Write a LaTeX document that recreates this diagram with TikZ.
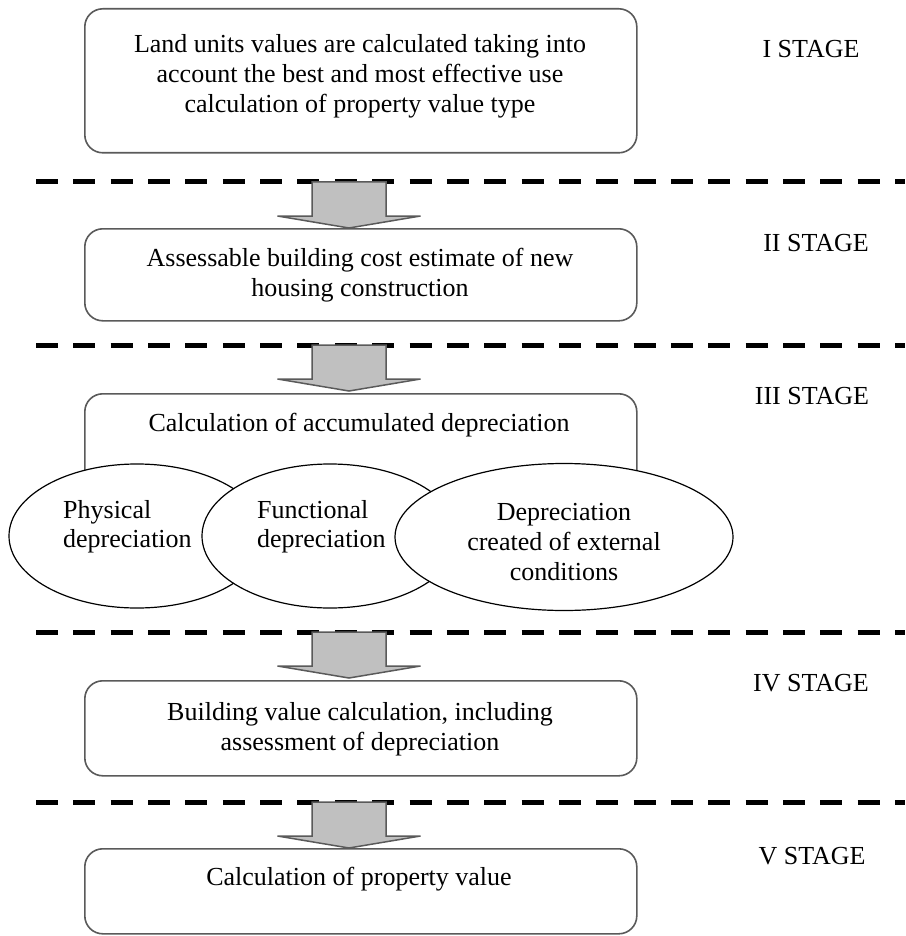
\documentclass[tikz,border=0pt]{standalone}
\usepackage{fontspec}
\setmainfont{Liberation Serif}
\usetikzlibrary{shapes.geometric}

\definecolor{edgegray}{HTML}{5A5A5A}
\definecolor{arrowfill}{HTML}{C0C0C0}

\tikzset{
  stagebox/.style={draw=edgegray, line width=1.6pt, rounded corners=18pt,
    fill=white, inner sep=0pt, anchor=north west},
  txt/.style={inner sep=0pt, align=center, font=\fontsize{26}{30}\selectfont},
  ltxt/.style={inner sep=0pt, align=left, font=\fontsize{26}{29}\selectfont, anchor=west},
  stagelabel/.style={inner sep=0pt, font=\fontsize{26}{30}\selectfont},
  factor/.style={ellipse, draw=black, line width=1.2pt, fill=white, inner sep=0pt},
  separator/.style={line width=5pt, dash pattern=on 22pt off 15.35pt},
  blockarrow/.pic={
    \path[draw=edgegray, fill=arrowfill, line width=1.5pt, line join=miter]
      (-37,0) -- (37,0) -- (37,34) -- (71.5,34) -- (0,46) -- (-71.5,34) -- (-37,34) -- cycle;
  }
}

\begin{document}
\begin{tikzpicture}[x=1pt, y=-1pt]
\useasboundingbox (0,0) rectangle (905,936);
\fill[white] (0,0) rectangle (905,936);

% stage separators
\foreach \yy in {182,345,632,802}
  \draw[separator] (36,\yy) -- (905,\yy);

% stage I
\node[stagebox, minimum width=552pt, minimum height=144pt] (b1) at (84,8) {};
\node[txt] (t1) at (360,76) {Land units values are calculated taking into\\account the best and most effective use\\calculation of property value type};
\node[stagelabel] (s1) at (811,49) {I STAGE};

% stage II
\pic at (349,182) {blockarrow};
\node[stagebox, minimum width=552pt, minimum height=92pt] (b2) at (84,228) {};
\node[txt] (t2) at (360,275) {Assessable building cost estimate of new\\housing construction};
\node[stagelabel] (s2) at (816,243) {II STAGE};

% stage III
\pic at (349,345) {blockarrow};
\node[stagebox, minimum width=552pt, minimum height=120pt] (b3) at (84,393) {};
\node[txt] (t3) at (359,425) {Calculation of accumulated depreciation};
\node[stagelabel] (s3) at (812,396) {III STAGE};

\node[factor, minimum width=256pt, minimum height=144pt] (e1) at (137,536) {};
\node[ltxt] (f1) at (63,527) {Physical\\depreciation};
\node[factor, minimum width=256pt, minimum height=144pt] (e2) at (330,536) {};
\node[ltxt] (f2) at (257,527) {Functional\\depreciation};
\node[factor, minimum width=338pt, minimum height=147pt] (e3) at (564,537) {};
\node[txt] (f3) at (564,542) {Depreciation\\created of external\\conditions};

% stage IV
\pic at (349,632) {blockarrow};
\node[stagebox, minimum width=552pt, minimum height=95pt] (b4) at (84,680) {};
\node[txt] (t4) at (360,729) {Building value calculation, including\\assessment of depreciation};
\node[stagelabel] (s4) at (811,683) {IV STAGE};

% stage V
\pic at (349,802) {blockarrow};
\node[stagebox, minimum width=552pt, minimum height=85pt] (b5) at (84,848) {};
\node[txt] (t5) at (359,879) {Calculation of property value};
\node[stagelabel] (s5) at (812,856) {V STAGE};
\end{tikzpicture}
\end{document}
